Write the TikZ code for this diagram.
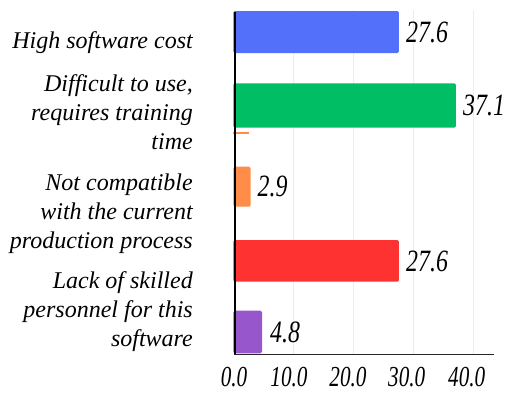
\documentclass[tikz,border=0pt]{standalone}
\usepackage{fontspec}
\setmainfont{Liberation Serif}
\usetikzlibrary{positioning}

\definecolor{barblue}{RGB}{82,112,250}
\definecolor{bargreen}{RGB}{0,190,100}
\definecolor{barorange}{RGB}{255,140,72}
\definecolor{barred}{RGB}{255,50,50}
\definecolor{barpurple}{RGB}{152,86,204}
\definecolor{gridgray}{RGB}{236,236,236}

\begin{document}
\begin{tikzpicture}[x=1pt, y=-1pt,
		cat/.style={anchor=base east, align=right, inner sep=0pt, font=\fontsize{24}{29}\selectfont\itshape},
		val/.style={anchor=west, inner sep=0pt, font=\fontsize{31}{31}\selectfont\itshape},
		tick/.style={inner sep=0pt, font=\fontsize{29}{29}\selectfont\itshape}]
		\useasboundingbox (0,0) rectangle (508,394);
		
		% grid
		\path[draw, gridgray, line width=0.8pt] (293,10) -- (293,354);
		\path[draw, gridgray, line width=0.8pt] (353,10) -- (353,354);
		\path[draw, gridgray, line width=0.8pt] (413,10) -- (413,354);
		\path[draw, gridgray, line width=0.8pt] (473,10) -- (473,354);
		
		% bars
		\path[fill=barblue, rounded corners=1.5pt] (233.3,11) rectangle (398.9,53);
		\path[fill=bargreen, rounded corners=1.5pt] (233.3,83.3) rectangle (455.9,127.7);
		\path[fill=barorange] (233.3,132) rectangle (249,133.5);
		\path[fill=barorange, rounded corners=1.5pt] (233.3,166.7) rectangle (250.7,206.7);
		\path[fill=barred, rounded corners=1.5pt] (233.3,240) rectangle (398.9,281.7);
		\path[fill=barpurple, rounded corners=1.5pt] (233.3,310.7) rectangle (262.1,353.3);
		
		% axes
		\path[draw, line width=1.3pt] (235,12) -- (235,355);
		\path[draw, line width=1.3pt, black!85] (234,354.5) -- (494,354.5);
		
		% labels, anchored on the last line
		\node[cat] (cost) at (193,48.3) {High software cost};
		\node[cat] (use) at (193,149.5) {Difficult to use,\\requires training\\time};
		\node[cat] (compat) at (193,248) {Not compatible\\with the current\\production process};
		\node[cat] (staff) at (193,346.7) {Lack of skilled\\personnel for this\\software};
		
		\node[val] (vcost) at (406,32.5) {\scalebox{0.77}[1]{27.6}};
		\node[val] (vuse) at (463,105.5) {\scalebox{0.77}[1]{37.1}};
		\node[val] (vcompat) at (257.5,186.7) {\scalebox{0.77}[1]{2.9}};
		\node[val] (vstaff) at (406,261) {\scalebox{0.77}[1]{27.6}};
		\node[val] (vskill) at (270,332) {\scalebox{0.77}[1]{4.8}};
		
		\node[tick] (t0) at (234,377.5) {\scalebox{0.73}[1]{0.0}};
		\node[tick] (t10) at (289,377.5) {\scalebox{0.73}[1]{10.0}};
		\node[tick] (t20) at (348,377.5) {\scalebox{0.73}[1]{20.0}};
		\node[tick] (t30) at (406.7,377.5) {\scalebox{0.73}[1]{30.0}};
		\node[tick] (t40) at (466.7,377.5) {\scalebox{0.73}[1]{40.0}};
	\end{tikzpicture}
\end{document}
